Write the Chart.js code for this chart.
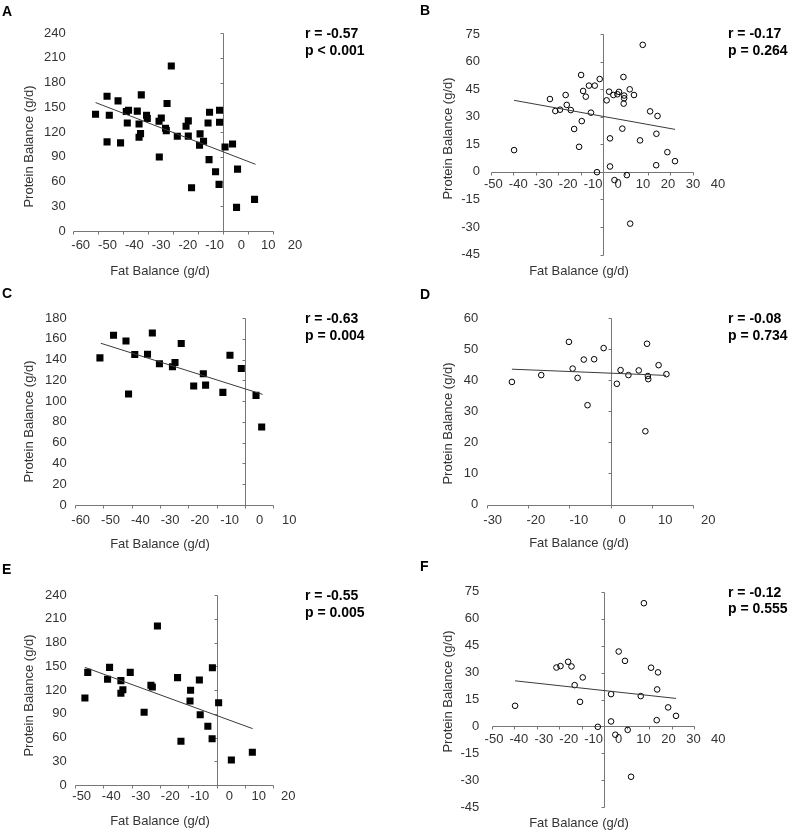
<!DOCTYPE html>
<html>
<head>
<meta charset="utf-8">
<script src="https://cdn.jsdelivr.net/npm/chart.js@4.4.1/dist/chart.umd.min.js"></script>
<style>
  body { margin: 0; background: #fff; font-family: "Liberation Sans", Arial, sans-serif; color: #333; }
  #fig { position: relative; width: 791px; height: 830px; overflow: hidden; }
  #fig canvas { position: absolute; }
  .txt { position: absolute; white-space: nowrap; font-size: 13px; line-height: 15px; }
  .letter, .stat { position: absolute; white-space: nowrap; font-weight: bold; font-size: 14px; line-height: 16px; color: #000; }
  .xtitle, .ytitle { width: 200px; height: 15px; text-align: center; }
  .ytitle { transform: rotate(-90deg); }
</style>
</head>
<body>
<div id="fig"></div>
<script>
// ---- data ----
const fatA = [-51.1, -46.5, -46.5, -45.6, -42.1, -41.1, -38.8, -37.9, -38.4, -34.4, -33.7, -32.8, -33.7, -33.1, -30.7, -30.4, -25.7, -24.8, -25.6, -22.5, -23.1, -22.8, -20.8, -18.4, -14.9, -14, -14, -12.7, -9.3, -9.5, -7.9, -6.1, -5.5, -5.7, -3.1, -1.7, -1.5, -1.5, 0.7, 3.7, 5.3, 5.7, 12.5];
const proteinA = [141.6, 163.4, 108, 140.3, 157.7, 106.8, 144.8, 146.4, 131, 145.3, 129.8, 165, 113.6, 118, 140.3, 136.3, 133, 137, 89.7, 154.5, 124.5, 121.7, 199.9, 114.8, 127, 133.5, 115, 52.5, 117.7, 103.9, 108.7, 131, 144, 86.5, 71.9, 56.5, 146.4, 131.8, 101.9, 105.5, 28.6, 75, 38.3];
const trendFatA = [-51.1, 12.9];
const trendProteinA = [155.7, 80.8];

const fatB = [-39.7, -23.7, -21.3, -19.2, -16.7, -16.2, -14.4, -12.9, -10.7, -9.8, -9.5, -8.9, -7.7, -6.3, -5.4, -3.7, -2.7, -1.5, 1.6, 2.7, 3.1, 3.1, 4.6, 5.1, 6.4, 7.1, 8.6, 9.1, 9.4, 9.4, 9.2, 10.6, 11.9, 12.1, 13.8, 16.5, 17.7, 21, 23.7, 23.8, 24.3, 28.7, 32.1];
const proteinB = [11.8, 39.6, 33.1, 33.8, 41.8, 36.4, 33.6, 23.3, 13.6, 52.7, 27.6, 44, 40.9, 46.9, 32.2, 46.9, -0.2, 50.5, 38.9, 43.6, 18.2, 2.9, 41.8, -4.5, 42.2, 43.5, 23.5, 51.6, 41.5, 40, 37.1, -1.8, 44.9, -28.2, 41.8, 17.1, 69.1, 32.9, 3.6, 20.7, 30.4, 10.7, 5.8];
const trendFatB = [-39.7, 32.1];
const trendProteinB = [38.9, 23.1];

const fatC = [-51.2, -46.4, -42, -41.1, -38.9, -34.4, -32.7, -30.2, -25.6, -24.7, -22.5, -18.1, -14.7, -13.9, -7.8, -5.3, -1.3, 3.9, 5.9];
const proteinC = [141.6, 163.4, 157.9, 106.8, 144.8, 145.1, 165.6, 135.9, 133, 137.1, 155.4, 114.5, 126.3, 115.4, 108.4, 144.2, 131.4, 105.5, 75.1];
const trendFatC = [-50.9, 6.2];
const trendProteinC = [155.7, 106.5];

const fatD = [-23.9, -16.8, -10.1, -9.2, -8, -6.5, -5.6, -4, -1.7, 1.5, 2.4, 4.3, 6.8, 8.4, 8.8, 9, 9.1, 11.6, 13.5];
const proteinD = [39.5, 41.7, 52.4, 43.8, 40.8, 46.7, 32, 46.8, 50.4, 38.9, 43.3, 41.7, 43.2, 23.6, 51.8, 41.4, 40.4, 44.9, 42];
const trendFatD = [-23.9, 13.4];
const trendProteinD = [43.6, 41.6];

const fatE = [-46.5, -45.5, -38.5, -37.8, -33.8, -33.8, -33.1, -30.5, -25.6, -23.2, -22.7, -20.9, -13.8, -12.6, -9.2, -9.4, -6.1, -5.8, -3.1, -1.6, -1.5, 0.7, 5.2, 12.6];
const proteinE = [109.9, 142.3, 133.5, 148.6, 131.8, 115.8, 120.4, 142.3, 91.8, 125.9, 123.8, 200.8, 135.6, 55.2, 119.6, 106.1, 132.6, 88.8, 74.1, 58.5, 148.2, 104, 31.6, 41.3];
const trendFatE = [-46.5, 12.7];
const trendProteinE = [148.6, 71.2];

const fatF = [-39.6, -21.2, -19.4, -16, -14.5, -13.1, -10.7, -9.5, -2.8, 3.1, 3.1, 5, 6.5, 9.3, 10.5, 12, 16.3, 17.7, 20.9, 23.4, 23.6, 24, 28.5, 32];
const proteinF = [11.5, 32.8, 33.6, 36, 33.4, 23, 13.7, 27.3, -0.2, 18, 2.8, -4.6, 41.7, 36.5, -1.9, -28, 16.9, 68.6, 32.7, 3.5, 20.6, 30.1, 10.6, 5.9];
const trendFatF = [-39.6, 32];
const trendProteinF = [25.4, 15.6];

// tick labels
const fatTicksA = [-60, -50, -40, -30, -20, -10, 0, 10, 20];
const fatTicksB = [-50, -40, -30, -20, -10, 0, 10, 20, 30, 40];
const fatTicksC = [-60, -50, -40, -30, -20, -10, 0, 10];
const fatTicksD = [-30, -20, -10, 0, 10, 20];
const fatTicksE = [-50, -40, -30, -20, -10, 0, 10, 20];
const proteinTicksAE = [0, 30, 60, 90, 120, 150, 180, 210, 240];
const proteinTicksBF = [-45, -30, -15, 0, 15, 30, 45, 60, 75];
const proteinTicksC = [0, 20, 40, 60, 80, 100, 120, 140, 160, 180];
const proteinTicksD = [0, 10, 20, 30, 40, 50, 60];

const statsA = ['r = -0.57', 'p < 0.001'];
const statsB = ['r = -0.17', 'p = 0.264'];
const statsC = ['r = -0.63', 'p = 0.004'];
const statsD = ['r = -0.08', 'p = 0.734'];
const statsE = ['r = -0.55', 'p = 0.005'];
const statsF = ['r = -0.12', 'p = 0.555'];

const xTitle = 'Fat Balance (g/d)';
const yTitle = 'Protein Balance (g/d)';

// ---- layout (page pixels) ----
// axisX: pixels of first/last fat tick, labelX: centres of first/last fat label,
// axisY: pixels of first/last protein tick
const panels = [
  { letter: 'A', box: [0, 0, 395, 278], fat: fatA, protein: proteinA, tFat: trendFatA, tProtein: trendProteinA,
    xTicks: fatTicksA, yTicks: proteinTicksAE, stats: statsA, filled: true,
    axisX: [73.3, 273.3], labelX: [80.7, 295], axisY: [231, 33], labelRow: 245, yLabelRight: 65.7,
    letterAt: [2, 10.5], statAt: [305, 33], xTitleAt: [160, 270.7], yTitleAt: [28.3, 146.7] },
  { letter: 'B', box: [395, 0, 396, 278], fat: fatB, protein: proteinB, tFat: trendFatB, tProtein: trendProteinB,
    xTicks: fatTicksB, yTicks: proteinTicksBF, stats: statsB, filled: false,
    axisX: [491, 692.7], labelX: [493.3, 718], axisY: [254.5, 34], labelRow: 184, yLabelRight: 480,
    letterAt: [420, 9.5], statAt: [728, 33], xTitleAt: [579, 270], yTitleAt: [446.7, 138.3] },
  { letter: 'C', box: [0, 278, 395, 272], fat: fatC, protein: proteinC, tFat: trendFatC, tProtein: trendProteinC,
    xTicks: fatTicksC, yTicks: proteinTicksC, stats: statsC, filled: true,
    axisX: [75, 273.3], labelX: [80.7, 289.3], axisY: [505, 318], labelRow: 520, yLabelRight: 66.7,
    letterAt: [2, 292.5], statAt: [305, 318], xTitleAt: [160, 543.3], yTitleAt: [28.3, 421.7] },
  { letter: 'D', box: [395, 278, 396, 272], fat: fatD, protein: proteinD, tFat: trendFatD, tProtein: trendProteinD,
    xTicks: fatTicksD, yTicks: proteinTicksD, stats: statsD, filled: false,
    axisX: [486.7, 693.3], labelX: [492.7, 708.3], axisY: [504.5, 318.3], labelRow: 520, yLabelRight: 478.3,
    letterAt: [420, 293.5], statAt: [728, 318.3], xTitleAt: [579, 542.5], yTitleAt: [446.7, 423.3] },
  { letter: 'E', box: [0, 550, 395, 280], fat: fatE, protein: proteinE, tFat: trendFatE, tProtein: trendProteinE,
    xTicks: fatTicksE, yTicks: proteinTicksAE, stats: statsE, filled: true,
    axisX: [75, 273.3], labelX: [81.7, 288.3], axisY: [785, 595], labelRow: 796, yLabelRight: 66.7,
    letterAt: [2, 569], statAt: [305, 595], xTitleAt: [160, 820], yTitleAt: [28.3, 695] },
  { letter: 'F', box: [395, 550, 396, 280], fat: fatF, protein: proteinF, tFat: trendFatF, tProtein: trendProteinF,
    xTicks: fatTicksB, yTicks: proteinTicksBF, stats: statsF, filled: false,
    axisX: [491.7, 694], labelX: [494, 718.3], axisY: [807.3, 591.7], labelRow: 739.3, yLabelRight: 479.3,
    letterAt: [420, 566], statAt: [728, 591.7], xTitleAt: [579, 822], yTitleAt: [446.7, 691.7] }
];

Chart.defaults.font.family = '"Liberation Sans", Arial, sans-serif';
const fig = document.getElementById('fig');
const tickFont = { size: 13, lineHeight: 1.2 };

function addText(cls, text, left, top) {
  const d = document.createElement('div');
  d.className = cls;
  d.textContent = text;
  d.style.left = left + 'px';
  d.style.top = top + 'px';
  fig.appendChild(d);
}

function buildPanel(p) {
  const [bx, by, bw, bh] = p.box;
  const canvas = document.createElement('canvas');
  canvas.width = bw;
  canvas.height = bh;
  canvas.style.left = bx + 'px';
  canvas.style.top = by + 'px';
  fig.appendChild(canvas);

  const xFirst = p.xTicks[0], xLast = p.xTicks[p.xTicks.length - 1];
  const yFirst = p.yTicks[0], yLast = p.yTicks[p.yTicks.length - 1];

  // chart area: from the start of the fat axis to just past the last label
  const left = p.axisX[0], right = p.labelX[1] + 8;
  const top = p.axisY[1], bottom = p.axisY[0];
  const yAxisWidth = left - bx; // protein label axis fills the space left of the plot

  // data scale for fat
  const perPx = (xLast - xFirst) / (p.axisX[1] - p.axisX[0]);
  const xMax = xFirst + (right - left) * perPx;
  // label scale (labels in the figure are spread a little wider than the ticks)
  const perPxL = (xLast - xFirst) / (p.labelX[1] - p.labelX[0]);
  const lMin = xFirst - (p.labelX[0] - left) * perPxL;
  const lMax = xFirst + (right - p.labelX[0]) * perPxL;

  const zeroY = bottom + (top - bottom) * (0 - yFirst) / (yLast - yFirst);
  const xLabelPad = p.labelRow - zeroY - 7.8;
  const yLabelPad = left - p.yLabelRight;

  const crossAxes = {
    id: 'crossAxes',
    beforeDatasetsDraw(chart) {
      const { ctx, scales: { x, y } } = chart;
      const snap = v => Math.round(v) + 0.5;
      const y0 = snap(y.getPixelForValue(0));
      const x0 = snap(x.getPixelForValue(0));
      ctx.save();
      ctx.strokeStyle = '#767676';
      ctx.lineWidth = 1;
      ctx.beginPath();
      ctx.moveTo(snap(x.getPixelForValue(xFirst)), y0);
      ctx.lineTo(snap(x.getPixelForValue(xLast)), y0);
      p.xTicks.forEach(v => {
        const px = snap(x.getPixelForValue(v));
        ctx.moveTo(px, y0);
        ctx.lineTo(px, y0 + 3);
      });
      ctx.moveTo(x0, snap(y.getPixelForValue(yFirst)));
      ctx.lineTo(x0, snap(y.getPixelForValue(yLast)));
      p.yTicks.forEach(v => {
        const py = snap(y.getPixelForValue(v));
        ctx.moveTo(x0 - 3, py);
        ctx.lineTo(x0, py);
      });
      ctx.stroke();
      ctx.restore();
    }
  };

  const points = p.fat.map((f, i) => ({ x: f, y: p.protein[i] }));
  const trend = p.tFat.map((f, i) => ({ x: f, y: p.tProtein[i] }));

  new Chart(canvas, {
    type: 'scatter',
    data: {
      datasets: [
        {
          data: points,
          pointStyle: p.filled ? 'rect' : 'circle',
          pointRadius: p.filled ? 5 : 2.8,
          backgroundColor: p.filled ? '#000' : 'rgba(0,0,0,0)',
          borderColor: '#000',
          borderWidth: p.filled ? 0 : 1,
          order: 2
        },
        {
          type: 'line',
          data: trend,
          showLine: true,
          borderColor: '#3a3a3a',
          borderWidth: 1,
          pointRadius: 0,
          fill: false,
          order: 1
        }
      ]
    },
    options: {
      responsive: false,
      animation: false,
      devicePixelRatio: 1,
      events: [],
      layout: { padding: { left: 0, right: bx + bw - right, top: top - by, bottom: by + bh - bottom } },
      plugins: { legend: { display: false }, tooltip: { enabled: false } },
      scales: {
        x: { type: 'linear', display: false, min: xFirst, max: xMax },
        y: {
          type: 'linear', position: 'left', min: yFirst, max: yLast,
          afterFit: s => { s.width = yAxisWidth; },
          afterBuildTicks: s => { s.ticks = p.yTicks.map(v => ({ value: v })); },
          grid: { display: false, drawTicks: false },
          border: { display: false },
          ticks: { padding: yLabelPad, font: tickFont, color: '#333', autoSkip: false, callback: v => String(v) }
        },
        xl: {
          type: 'linear', axis: 'x', position: { y: 0 }, min: lMin, max: lMax,
          afterBuildTicks: s => { s.ticks = p.xTicks.map(v => ({ value: v })); },
          grid: { display: false, drawTicks: false },
          border: { display: false },
          ticks: { padding: xLabelPad, font: tickFont, color: '#333', autoSkip: false, maxRotation: 0, minRotation: 0, callback: v => String(v) }
        }
      }
    },
    plugins: [crossAxes]
  });

  addText('letter', p.letter, p.letterAt[0], p.letterAt[1] - 8);
  addText('stat', p.stats[0], p.statAt[0], p.statAt[1] - 8);
  addText('stat', p.stats[1], p.statAt[0], p.statAt[1] + 16.5 - 8);
  addText('txt xtitle', xTitle, p.xTitleAt[0] - 100, p.xTitleAt[1] - 7.5);
  addText('txt ytitle', yTitle, p.yTitleAt[0] - 100, p.yTitleAt[1] - 7.5);
}

panels.forEach(buildPanel);
</script>
</body>
</html>
